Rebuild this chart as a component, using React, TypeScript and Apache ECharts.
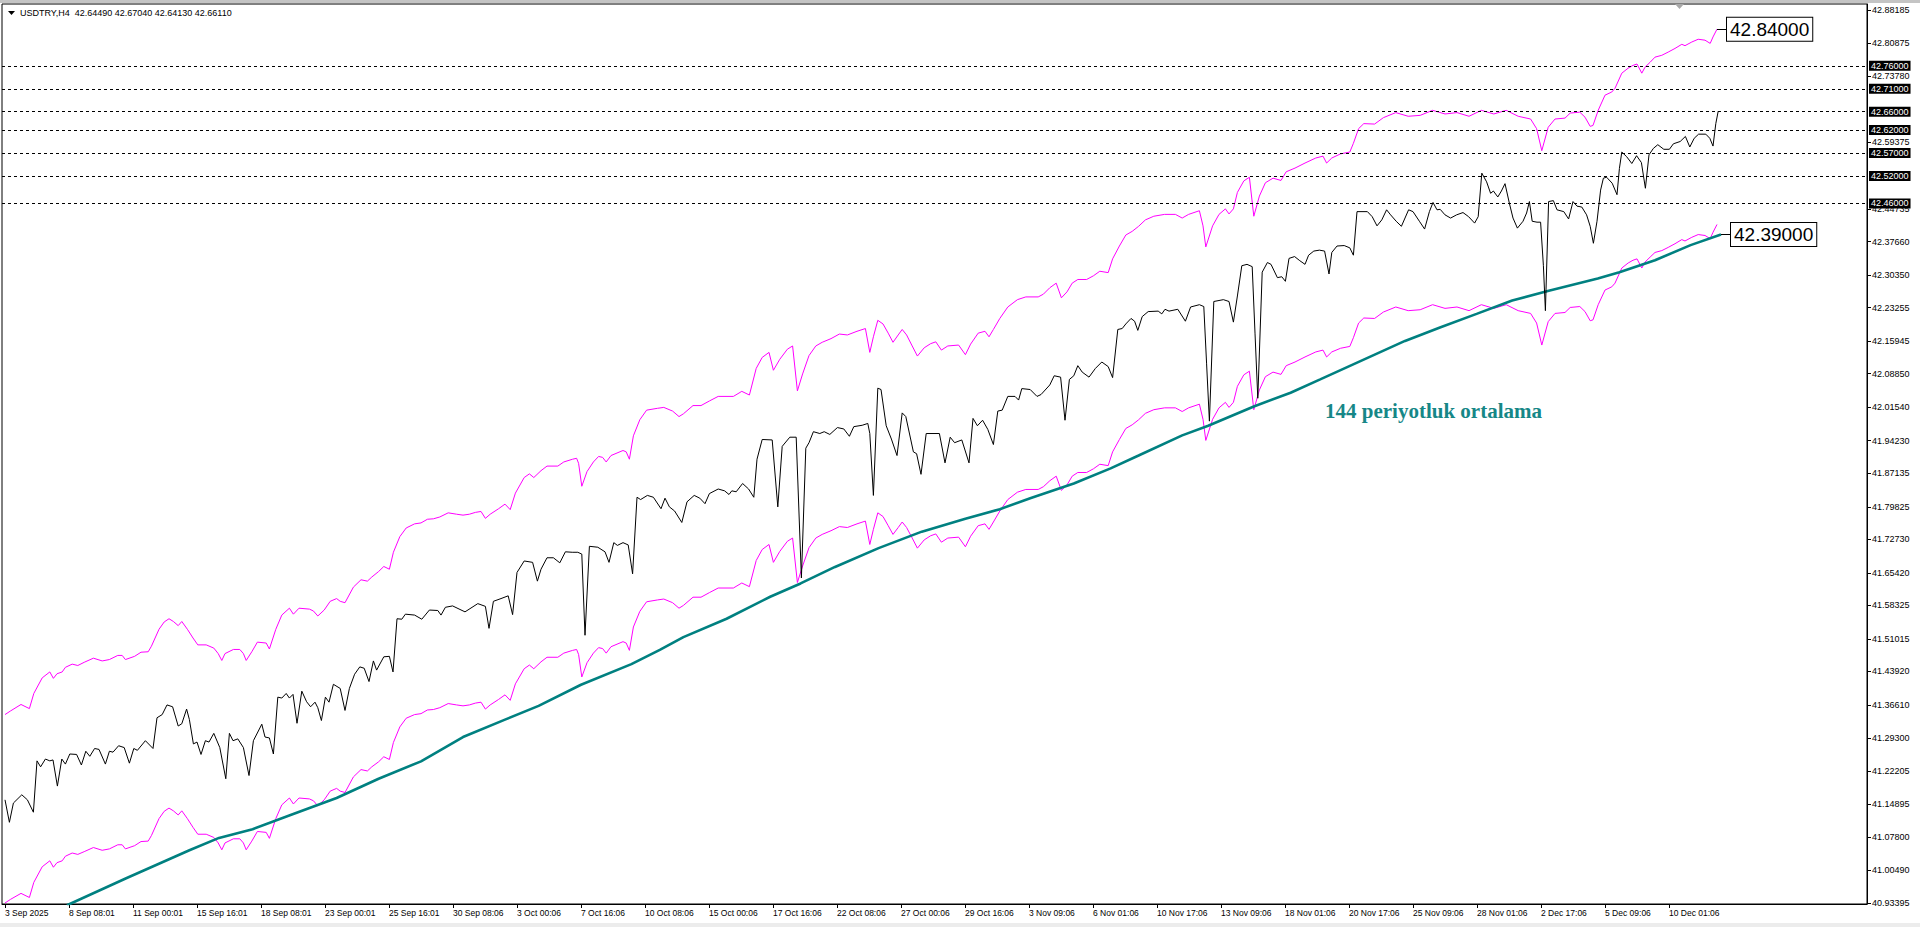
import React, { useEffect, useRef } from "react";
import * as echarts from "echarts";

const titleText = "USDTRY,H4  42.64490 42.67040 42.64130 42.66110";
const annotationText = "144 periyotluk ortalama";

const xLabels = [
  "3 Sep 2025", "8 Sep 08:01", "11 Sep 00:01", "15 Sep 16:01", "18 Sep 08:01",
  "23 Sep 00:01", "25 Sep 16:01", "30 Sep 08:06", "3 Oct 00:06", "7 Oct 16:06",
  "10 Oct 08:06", "15 Oct 00:06", "17 Oct 16:06", "22 Oct 08:06", "27 Oct 00:06",
  "29 Oct 16:06", "3 Nov 09:06", "6 Nov 01:06", "10 Nov 17:06", "13 Nov 09:06",
  "18 Nov 01:06", "20 Nov 17:06", "25 Nov 09:06", "28 Nov 01:06", "2 Dec 17:06",
  "5 Dec 09:06", "10 Dec 01:06",
];
const barsPerLabel = 16;

const yTicks = [
  42.88185, 42.80875, 42.7378, 42.59375, 42.44735, 42.3766, 42.3035, 42.23255,
  42.15945, 42.0885, 42.0154, 41.9423, 41.87135, 41.79825, 41.7273, 41.6542,
  41.58325, 41.51015, 41.4392, 41.3661, 41.293, 41.22205, 41.14895, 41.078,
  41.0049, 40.93395,
];

const levelLines = [42.76, 42.71, 42.66, 42.62, 42.57, 42.52, 42.46];
const upperTag = 42.84;
const maTag = 42.39;

// [bar index, price]
const closePrice: [number, number][] = [
  [0, 41.159], [1.1, 41.11], [2.1, 41.152], [4.2, 41.17], [5.6, 41.159], [7.1, 41.132],
  [8, 41.244], [8.9, 41.231], [10.1, 41.248], [11.2, 41.244], [12, 41.246], [13.1, 41.189],
  [14.2, 41.248], [15.1, 41.237], [16.2, 41.259], [17.9, 41.258], [19.1, 41.235], [20.2, 41.265],
  [21.2, 41.254], [22.4, 41.271], [23.5, 41.269], [25.1, 41.237], [26.1, 41.265], [27, 41.263],
  [28.4, 41.277], [29.8, 41.273], [31.1, 41.239], [32.2, 41.271], [33.1, 41.267], [35.1, 41.288],
  [37, 41.271], [38, 41.338], [39.3, 41.345], [40.5, 41.366], [41.9, 41.362], [43.3, 41.32],
  [44.2, 41.325], [45.4, 41.357], [46.1, 41.334], [47.1, 41.281], [48, 41.285], [49, 41.258],
  [50.1, 41.288], [51, 41.285], [52.2, 41.304], [53.7, 41.273], [55.2, 41.205], [56.1, 41.304],
  [57, 41.288], [58.2, 41.292], [59.6, 41.273], [61, 41.212], [62.1, 41.288], [64.2, 41.324],
  [65, 41.296], [66.1, 41.294], [67.1, 41.259], [68.2, 41.383], [69.2, 41.381], [70.3, 41.391],
  [71.1, 41.381], [72, 41.389], [73, 41.326], [74.2, 41.396], [75.4, 41.373], [76.4, 41.362],
  [77.5, 41.372], [78.2, 41.36], [79.1, 41.332], [80.1, 41.383], [81, 41.372], [82.1, 41.411],
  [83.8, 41.402], [85, 41.354], [86.1, 41.402], [87.4, 41.433], [88.7, 41.449], [89.8, 41.446],
  [91, 41.417], [92.1, 41.462], [92.9, 41.442], [94.7, 41.471], [96.1, 41.472], [97, 41.438],
  [98, 41.554], [99.2, 41.553], [100.1, 41.564], [102.4, 41.562], [104.2, 41.553], [106.1, 41.573],
  [108.2, 41.572], [109, 41.562], [110.1, 41.579], [111.9, 41.582], [115, 41.569], [118.2, 41.587],
  [120.1, 41.581], [121, 41.533], [122.1, 41.592], [124, 41.598], [125.8, 41.604], [126.9, 41.563],
  [128, 41.655], [129.8, 41.68], [131.9, 41.677], [133.1, 41.636], [134, 41.662], [135.5, 41.687],
  [137.1, 41.687], [138.7, 41.676], [140.1, 41.7], [141.8, 41.699], [143.2, 41.699], [144.2, 41.695],
  [145, 41.518], [146.1, 41.712], [148.2, 41.71], [150, 41.7], [151, 41.677], [152.2, 41.72],
  [153.1, 41.714], [154.5, 41.72], [155.8, 41.715], [156.9, 41.652], [158, 41.819], [158.9, 41.814],
  [160.6, 41.823], [162.1, 41.819], [164, 41.794], [165, 41.817], [166.1, 41.798], [167.4, 41.789],
  [169.2, 41.764], [170.5, 41.809], [172.3, 41.823], [173.7, 41.817], [175, 41.805], [176.1, 41.827],
  [178.3, 41.837], [179.9, 41.833], [181, 41.825], [181.7, 41.833], [182.8, 41.831], [184.4, 41.849],
  [185.9, 41.837], [187.2, 41.819], [188, 41.902], [189.3, 41.945], [191.8, 41.944], [193.2, 41.798],
  [194.3, 41.93], [196.2, 41.95], [197.8, 41.95], [199.1, 41.643], [200.2, 41.926], [201, 41.938],
  [202.1, 41.962], [203.7, 41.958], [204.8, 41.962], [206.2, 41.956], [208.1, 41.971], [209.7, 41.968],
  [211.1, 41.952], [212.2, 41.973], [214.3, 41.976], [215.7, 41.98], [216.2, 41.958], [217.1, 41.823],
  [218.2, 42.057], [219, 42.054], [220.3, 41.975], [221.6, 41.946], [223, 41.91], [224.3, 42.003],
  [225.2, 41.995], [227.1, 41.918], [227.9, 41.914], [229, 41.869], [230.3, 41.958], [233.6, 41.958],
  [235, 41.894], [236.3, 41.95], [237.4, 41.938], [239.2, 41.944], [241, 41.894], [242, 41.991],
  [243.1, 41.975], [244.4, 41.987], [245.7, 41.967], [247.1, 41.934], [248.2, 42.007], [249.3, 42.009],
  [250.7, 42.039], [252.5, 42.039], [253.4, 42.031], [254.2, 42.056], [256.3, 42.054], [258, 42.039],
  [259, 42.043], [261.2, 42.064], [262.3, 42.084], [263.9, 42.081], [265, 41.987], [266.1, 42.076],
  [267.2, 42.084], [268.2, 42.106], [269.3, 42.092], [271, 42.081], [272.6, 42.1], [274.2, 42.114],
  [275.8, 42.104], [276.9, 42.08], [278.2, 42.185], [279.3, 42.187], [280.2, 42.197], [281.5, 42.209],
  [282.4, 42.203], [283.2, 42.183], [284.3, 42.213], [285.8, 42.224], [288.3, 42.225], [289.2, 42.219],
  [290, 42.229], [291, 42.225], [293.2, 42.229], [295.1, 42.203], [296.4, 42.234], [298.6, 42.239],
  [299.7, 42.235], [300.4, 42.11], [301.1, 41.985], [302.2, 42.246], [304.6, 42.25], [306, 42.246],
  [307.1, 42.201], [308.1, 42.258], [309.2, 42.324], [310.5, 42.327], [311.8, 42.322], [312.5, 42.177],
  [313.2, 42.035], [314.3, 42.31], [315.6, 42.331], [316.5, 42.327], [318.1, 42.298], [319.2, 42.3],
  [320.1, 42.29], [321, 42.34], [322.4, 42.344], [323.7, 42.335], [325, 42.327], [325.9, 42.347],
  [327.2, 42.356], [328.6, 42.358], [329.9, 42.356], [331, 42.306], [331.7, 42.353], [333, 42.367],
  [334.8, 42.368], [336.2, 42.363], [337.1, 42.347], [338, 42.442], [340.6, 42.442], [341.8, 42.431],
  [343, 42.411], [344.2, 42.424], [345.4, 42.446], [346.4, 42.435], [347.8, 42.421], [349.1, 42.41],
  [350.9, 42.446], [352, 42.442], [353.6, 42.421], [354.9, 42.404], [356.1, 42.442], [357, 42.462],
  [358, 42.446], [358.8, 42.447], [360, 42.435], [361.4, 42.428], [362.9, 42.435], [364.5, 42.44],
  [365.9, 42.431], [367.4, 42.417], [368.3, 42.431], [369.2, 42.526], [370.4, 42.507], [371.4, 42.482],
  [372.1, 42.487], [373.2, 42.474], [374.1, 42.487], [375, 42.503], [376.1, 42.46], [377, 42.428],
  [378.1, 42.406], [379.5, 42.421], [380.4, 42.439], [381.1, 42.464], [381.8, 42.421], [383, 42.419],
  [383.9, 42.419], [384.6, 42.324], [385.1, 42.226], [385.9, 42.464], [387.1, 42.466], [388, 42.446],
  [389.7, 42.442], [390.9, 42.426], [392, 42.464], [393, 42.454], [394.2, 42.452], [395.4, 42.435],
  [396.3, 42.41], [397.1, 42.373], [398, 42.421], [398.9, 42.489], [399.6, 42.515], [400.4, 42.517],
  [401.8, 42.504], [403, 42.479], [403.6, 42.536], [404.2, 42.572], [405.4, 42.562], [406.7, 42.547],
  [407.9, 42.564], [409.1, 42.549], [410.1, 42.493], [411, 42.566], [412.1, 42.58], [413.2, 42.588],
  [414.7, 42.578], [416.1, 42.578], [417.1, 42.59], [418.8, 42.595], [420.1, 42.606], [421.2, 42.583],
  [422.3, 42.602], [423.4, 42.611], [425.2, 42.611], [426.2, 42.602], [427, 42.585], [427.7, 42.634],
  [428.3, 42.661],
];

const envelopeUpper: [number, number][] = [
  [0, 41.345], [1.4, 41.353], [4, 41.367], [6.1, 41.358], [7.2, 41.391], [9.3, 41.425], [11.2, 41.438],
  [12.1, 41.424], [13, 41.434], [14.3, 41.438], [15.1, 41.448], [16.8, 41.455], [18.2, 41.452],
  [19.8, 41.459], [22.1, 41.468], [24.3, 41.462], [26.1, 41.465], [28.2, 41.474], [29.3, 41.474],
  [30.1, 41.465], [32.4, 41.472], [34, 41.481], [35.8, 41.482], [36.6, 41.494], [38.5, 41.531],
  [39.8, 41.547], [41, 41.554], [42.1, 41.548], [43.3, 41.539], [44.2, 41.548], [45.6, 41.531],
  [47, 41.512], [48.2, 41.497], [50.3, 41.497], [52.2, 41.49], [53.3, 41.478], [54.2, 41.463],
  [55, 41.478], [57.1, 41.487], [58.7, 41.487], [59.6, 41.478], [60.3, 41.463], [61.7, 41.482],
  [63.1, 41.503], [65.3, 41.501], [66.1, 41.488], [67.7, 41.531], [69.2, 41.562], [71.1, 41.577],
  [72.1, 41.564], [73.5, 41.577], [76.1, 41.575], [77.1, 41.571], [78.2, 41.56], [79.8, 41.573],
  [81.3, 41.592], [82.9, 41.598], [83.8, 41.592], [85, 41.589], [87.1, 41.623], [89, 41.639],
  [90.6, 41.636], [91.7, 41.645], [93.4, 41.657], [94.7, 41.668], [96.1, 41.662], [97.1, 41.699],
  [98.7, 41.733], [100.3, 41.752], [102.4, 41.761], [104, 41.763], [105.6, 41.771], [107.1, 41.772],
  [108.7, 41.776], [110.8, 41.785], [112.9, 41.782], [114.5, 41.78], [116.1, 41.782], [117.6, 41.786],
  [119, 41.788], [120.1, 41.773], [121.3, 41.782], [123.4, 41.794], [125, 41.804], [126.3, 41.792],
  [127.6, 41.828], [129.8, 41.862], [131.1, 41.87], [132.2, 41.862], [134, 41.877], [135.5, 41.887],
  [138.2, 41.887], [139.7, 41.896], [141.9, 41.902], [142.9, 41.904], [143.4, 41.893], [144.2, 41.843],
  [145.5, 41.875], [147.1, 41.896], [148.4, 41.908], [149.4, 41.906], [150.3, 41.896], [151.5, 41.91],
  [154.5, 41.921], [155.3, 41.918], [156.1, 41.902], [157.1, 41.953], [158.7, 41.988], [160.4, 42.009],
  [163.1, 42.013], [164.7, 42.015], [166.9, 42.007], [168.5, 41.995], [169.6, 42.001], [172, 42.019],
  [174, 42.019], [176.1, 42.029], [178.3, 42.039], [182.1, 42.039], [184.2, 42.05], [186.1, 42.042],
  [187.8, 42.1], [189.3, 42.124], [191, 42.135], [192.1, 42.096], [193.7, 42.12], [195.6, 42.142],
  [196.9, 42.149], [198.1, 42.051], [199.4, 42.088], [201, 42.128], [202.7, 42.149], [204.3, 42.157],
  [206.5, 42.165], [208.6, 42.175], [210.6, 42.173], [213, 42.181], [215.1, 42.187], [216.2, 42.135],
  [217.1, 42.169], [218.2, 42.205], [219.5, 42.197], [220.8, 42.177], [222, 42.157], [223.3, 42.173],
  [224.3, 42.185], [225.4, 42.173], [226.8, 42.149], [228.1, 42.127], [229.8, 42.145], [231.4, 42.154],
  [232.7, 42.158], [234.1, 42.14], [235.7, 42.149], [238.4, 42.151], [240.1, 42.13], [241.4, 42.153],
  [243.3, 42.177], [245, 42.181], [246, 42.169], [247.1, 42.185], [248.7, 42.209], [250.7, 42.234],
  [253.1, 42.25], [255.2, 42.256], [258.3, 42.256], [259.6, 42.262], [261.2, 42.276], [262.8, 42.286],
  [264.1, 42.254], [265.5, 42.267], [266.8, 42.286], [268.2, 42.294], [270.4, 42.294], [272.1, 42.302],
  [273.7, 42.312], [275.8, 42.309], [276.9, 42.339], [278.6, 42.367], [280.2, 42.391], [281.8, 42.399],
  [283.4, 42.41], [285.1, 42.424], [287.2, 42.432], [289.9, 42.436], [292.6, 42.436], [294.3, 42.428],
  [295.9, 42.436], [298.6, 42.444], [299.5, 42.411], [300.2, 42.365], [301.9, 42.411], [303.5, 42.436],
  [305.1, 42.448], [306, 42.437], [307.1, 42.448], [308.1, 42.484], [309.7, 42.509], [311.1, 42.517],
  [312.2, 42.432], [313.6, 42.476], [315.1, 42.505], [317, 42.515], [319, 42.51], [320.3, 42.529],
  [322.5, 42.537], [325, 42.548], [327.7, 42.559], [329.5, 42.563], [330.4, 42.548], [331.7, 42.559],
  [333.9, 42.568], [336.2, 42.572], [337.1, 42.591], [338.4, 42.623], [339.7, 42.634], [342.4, 42.633],
  [344.6, 42.647], [347.7, 42.658], [350.8, 42.65], [353.8, 42.652], [356.9, 42.663], [360, 42.655],
  [363, 42.658], [366, 42.65], [369.1, 42.663], [372.2, 42.655], [375.3, 42.663], [378.3, 42.65],
  [381.4, 42.644], [382.9, 42.623], [384.2, 42.575], [385.8, 42.626], [387.5, 42.644], [390, 42.646],
  [391.3, 42.657], [393.7, 42.659], [395, 42.648], [396.3, 42.628], [397, 42.63], [398.3, 42.663],
  [400, 42.696], [401.7, 42.703], [402.5, 42.711], [404.2, 42.744], [405.8, 42.755], [407, 42.761],
  [408, 42.764], [409.2, 42.744], [410, 42.757], [411.3, 42.768], [412.5, 42.779], [414.2, 42.783],
  [415.8, 42.79], [417.5, 42.798], [419.2, 42.807], [420, 42.804], [421.7, 42.812], [423.3, 42.818],
  [425, 42.816], [426.3, 42.809], [427, 42.823], [428, 42.84],
];

const envelopeLower: [number, number][] = [
  [0, 40.934], [1.4, 40.942], [4, 40.955], [6.1, 40.946], [7.2, 40.979], [9.3, 41.013], [11.2, 41.026],
  [12.1, 41.012], [13, 41.022], [14.3, 41.026], [15.1, 41.036], [16.8, 41.043], [18.2, 41.04],
  [19.8, 41.046], [22.1, 41.055], [24.3, 41.049], [26.1, 41.052], [28.2, 41.061], [29.3, 41.061],
  [30.1, 41.052], [32.4, 41.059], [34, 41.068], [35.8, 41.069], [36.6, 41.081], [38.5, 41.118],
  [39.8, 41.134], [41, 41.141], [42.1, 41.135], [43.3, 41.126], [44.2, 41.135], [45.6, 41.118],
  [47, 41.099], [48.2, 41.084], [50.3, 41.084], [52.2, 41.077], [53.3, 41.065], [54.2, 41.05],
  [55, 41.065], [57.1, 41.074], [58.7, 41.074], [59.6, 41.065], [60.3, 41.05], [61.7, 41.069],
  [63.1, 41.09], [65.3, 41.088], [66.1, 41.075], [67.7, 41.118], [69.2, 41.148], [71.1, 41.163],
  [72.1, 41.15], [73.5, 41.163], [76.1, 41.161], [77.1, 41.157], [78.2, 41.146], [79.8, 41.159],
  [81.3, 41.178], [82.9, 41.184], [83.8, 41.178], [85, 41.175], [87.1, 41.209], [89, 41.225],
  [90.6, 41.222], [91.7, 41.231], [93.4, 41.242], [94.7, 41.253], [96.1, 41.247], [97.1, 41.284],
  [98.7, 41.318], [100.3, 41.337], [102.4, 41.345], [104, 41.347], [105.6, 41.355], [107.1, 41.356],
  [108.7, 41.36], [110.8, 41.369], [112.9, 41.366], [114.5, 41.364], [116.1, 41.366], [117.6, 41.37],
  [119, 41.372], [120.1, 41.357], [121.3, 41.366], [123.4, 41.378], [125, 41.388], [126.3, 41.376],
  [127.6, 41.412], [129.8, 41.445], [131.1, 41.453], [132.2, 41.445], [134, 41.46], [135.5, 41.47],
  [138.2, 41.47], [139.7, 41.479], [141.9, 41.485], [142.9, 41.487], [143.4, 41.476], [144.2, 41.427],
  [145.5, 41.458], [147.1, 41.479], [148.4, 41.491], [149.4, 41.489], [150.3, 41.479], [151.5, 41.493],
  [154.5, 41.504], [155.3, 41.501], [156.1, 41.485], [157.1, 41.536], [158.7, 41.57], [160.4, 41.591],
  [163.1, 41.595], [164.7, 41.597], [166.9, 41.589], [168.5, 41.577], [169.6, 41.583], [172, 41.601],
  [174, 41.601], [176.1, 41.611], [178.3, 41.621], [182.1, 41.621], [184.2, 41.632], [186.1, 41.624],
  [187.8, 41.681], [189.3, 41.705], [191, 41.716], [192.1, 41.677], [193.7, 41.701], [195.6, 41.723],
  [196.9, 41.73], [198.1, 41.633], [199.4, 41.669], [201, 41.709], [202.7, 41.73], [204.3, 41.738],
  [206.5, 41.746], [208.6, 41.755], [210.6, 41.753], [213, 41.761], [215.1, 41.767], [216.2, 41.716],
  [217.1, 41.749], [218.2, 41.785], [219.5, 41.777], [220.8, 41.757], [222, 41.738], [223.3, 41.753],
  [224.3, 41.765], [225.4, 41.753], [226.8, 41.73], [228.1, 41.708], [229.8, 41.726], [231.4, 41.735],
  [232.7, 41.739], [234.1, 41.721], [235.7, 41.73], [238.4, 41.732], [240.1, 41.711], [241.4, 41.734],
  [243.3, 41.757], [245, 41.761], [246, 41.749], [247.1, 41.765], [248.7, 41.789], [250.7, 41.814],
  [253.1, 41.83], [255.2, 41.836], [258.3, 41.836], [259.6, 41.842], [261.2, 41.855], [262.8, 41.865],
  [264.1, 41.834], [265.5, 41.846], [266.8, 41.865], [268.2, 41.873], [270.4, 41.873], [272.1, 41.881],
  [273.7, 41.891], [275.8, 41.888], [276.9, 41.918], [278.6, 41.945], [280.2, 41.969], [281.8, 41.977],
  [283.4, 41.988], [285.1, 42.002], [287.2, 42.01], [289.9, 42.014], [292.6, 42.014], [294.3, 42.006],
  [295.9, 42.014], [298.6, 42.022], [299.5, 41.989], [300.2, 41.943], [301.9, 41.989], [303.5, 42.014],
  [305.1, 42.026], [306, 42.015], [307.1, 42.026], [308.1, 42.061], [309.7, 42.086], [311.1, 42.094],
  [312.2, 42.01], [313.6, 42.053], [315.1, 42.082], [317, 42.092], [319, 42.087], [320.3, 42.106],
  [322.5, 42.114], [325, 42.125], [327.7, 42.136], [329.5, 42.14], [330.4, 42.125], [331.7, 42.136],
  [333.9, 42.144], [336.2, 42.148], [337.1, 42.167], [338.4, 42.199], [339.7, 42.21], [342.4, 42.209],
  [344.6, 42.223], [347.7, 42.234], [350.8, 42.226], [353.8, 42.228], [356.9, 42.239], [360, 42.231],
  [363, 42.234], [366, 42.226], [369.1, 42.239], [372.2, 42.231], [375.3, 42.239], [378.3, 42.226],
  [381.4, 42.22], [382.9, 42.199], [384.2, 42.151], [385.8, 42.202], [387.5, 42.22], [390, 42.222],
  [391.3, 42.233], [393.7, 42.235], [395, 42.224], [396.3, 42.204], [397, 42.206], [398.3, 42.239],
  [400, 42.271], [401.7, 42.278], [402.5, 42.286], [404.2, 42.319], [405.8, 42.33], [407, 42.336],
  [408, 42.339], [409.2, 42.319], [410, 42.332], [411.3, 42.343], [412.5, 42.353], [414.2, 42.357],
  [415.8, 42.364], [417.5, 42.372], [419.2, 42.381], [420, 42.378], [421.7, 42.386], [423.3, 42.392],
  [425, 42.39], [426.3, 42.383], [427, 42.397], [428, 42.414],
];

const ma144: [number, number][] = [
  [15.5, 40.929], [30.3, 40.988], [46.1, 41.049], [53.5, 41.076], [61.9, 41.095], [72.4, 41.129],
  [82.9, 41.163], [93.4, 41.205], [104, 41.243], [114.5, 41.296], [125, 41.334], [133.4, 41.364],
  [144, 41.41], [156.6, 41.455], [163.7, 41.486], [169.6, 41.514], [180.4, 41.554], [191.3, 41.602],
  [198.9, 41.631], [207.5, 41.667], [218.4, 41.708], [229.2, 41.744], [240.1, 41.772], [248.7, 41.793],
  [256.3, 41.817], [267.2, 41.849], [276.4, 41.882], [283.4, 41.91], [294.3, 41.954], [300.8, 41.975],
  [312.2, 42.017], [321.4, 42.047], [328.8, 42.076], [350, 42.16], [358.9, 42.19], [367.9, 42.219],
  [376.8, 42.248], [385.7, 42.269], [398.2, 42.296], [403.6, 42.31], [412.5, 42.336], [421.4, 42.369],
  [429, 42.392],
];

const FONT = "Liberation Sans";

function tagLine(last: [number, number], text: string) {
  return {
    silent: true,
    symbol: ["none", "none"],
    animation: false,
    lineStyle: { color: "#000", width: 1, type: "solid" },
    emphasis: { disabled: true },
    label: {
      show: true,
      position: "end",
      formatter: text,
      backgroundColor: "#fff",
      borderColor: "#000",
      borderWidth: 1,
      padding: [3, 3, 1, 3],
      color: "#000",
      fontSize: 19,
      fontFamily: FONT,
      distance: 0,
    },
    data: [[{ coord: [last[0], last[1]] }, { coord: [last[0] + 2.5, last[1]] }]],
  };
}

export default function App() {
  const ref = useRef<HTMLDivElement>(null);
  useEffect(() => {
    document.body.style.margin = "0";
    if (!ref.current) return;
    const chart = echarts.init(ref.current, null, { renderer: "svg" });
    const xTickIdx = xLabels.map((_, i) => i * barsPerLabel);
    const lastUpper = envelopeUpper[envelopeUpper.length - 1];
    const lastMa = ma144[ma144.length - 1];

    chart.setOption({
      animation: false,
      backgroundColor: "#fff",
      textStyle: { fontFamily: FONT },
      grid: {
        left: 2, right: 53, top: 4, bottom: 23,
        show: true, borderColor: "#000", borderWidth: 1, backgroundColor: "#fff",
      },
      xAxis: {
        type: "value",
        min: -0.75,
        max: 465.5,
        splitLine: { show: false },
        axisLine: { show: true, onZero: false, lineStyle: { color: "#000", width: 1 } },
        axisTick: { show: true, customValues: xTickIdx, length: 4, lineStyle: { color: "#000" } },
        axisLabel: {
          customValues: xTickIdx,
          formatter: (v: number) => xLabels[Math.round(v / barsPerLabel)] ?? "",
          align: "left",
          margin: 4,
          fontSize: 8.5,
          color: "#000",
          fontFamily: FONT,
          hideOverlap: false,
        },
      },
      yAxis: {
        type: "value",
        position: "right",
        min: 40.9318,
        max: 42.8949,
        splitLine: { show: false },
        axisLine: { show: true, onZero: false, lineStyle: { color: "#000", width: 1 } },
        axisTick: { show: true, customValues: yTicks, length: 4, lineStyle: { color: "#000" } },
        axisLabel: {
          customValues: yTicks,
          formatter: (v: number) => Number(v).toFixed(5),
          margin: 5,
          fontSize: 9,
          color: "#000",
          fontFamily: FONT,
          showMinLabel: true,
          showMaxLabel: true,
        },
      },
      series: [
        {
          name: "Envelope lower",
          type: "line",
          data: envelopeLower,
          showSymbol: false,
          symbol: "none",
          silent: true,
          lineStyle: { color: "#ff00ff", width: 1 },
          z: 2,
        },
        {
          name: "Envelope upper",
          type: "line",
          data: envelopeUpper,
          showSymbol: false,
          symbol: "none",
          silent: true,
          lineStyle: { color: "#ff00ff", width: 1 },
          z: 2,
          markLine: tagLine(lastUpper, upperTag.toFixed(5)),
        },
        {
          name: "MA 144",
          type: "line",
          data: ma144,
          showSymbol: false,
          symbol: "none",
          silent: true,
          lineStyle: { color: "#008080", width: 2.6 },
          z: 3,
          markLine: tagLine(lastMa, maTag.toFixed(5)),
        },
        {
          name: "USDTRY",
          type: "line",
          data: closePrice,
          showSymbol: false,
          symbol: "none",
          silent: true,
          lineStyle: { color: "#000", width: 1 },
          z: 4,
          markLine: {
            silent: true,
            symbol: ["none", "none"],
            animation: false,
            emphasis: { disabled: true },
            lineStyle: { color: "#000", width: 1, type: [3, 3] },
            label: {
              show: true,
              position: "end",
              backgroundColor: "#000",
              color: "#fff",
              padding: [1, 2, 0, 2],
              fontSize: 9,
              fontFamily: FONT,
              distance: 2,
            },
            data: levelLines.map((v) => ({ yAxis: v, label: { formatter: v.toFixed(5) } })),
          },
        },
      ],
      graphic: [
        { type: "rect", shape: { x: 0, y: 0, width: 1920, height: 3 }, style: { fill: "#c4c4c4" }, silent: true },
        { type: "rect", shape: { x: 0, y: 923, width: 1920, height: 4 }, style: { fill: "#ececec" }, silent: true },
        { type: "polygon", shape: { points: [[1675, 4], [1684, 4], [1679.5, 9]] }, style: { fill: "#a8a8a8" }, silent: true },
        { type: "polygon", shape: { points: [[8, 11], [15, 11], [11.5, 15]] }, style: { fill: "#000" }, silent: true },
        {
          type: "text", x: 20, y: 13, silent: true,
          style: { text: titleText, fill: "#000", font: `9px "${FONT}"`, align: "left", verticalAlign: "middle" },
        },
        {
          type: "text", x: 1325, y: 411, silent: true,
          style: {
            text: annotationText, fill: "#168787",
            font: 'bold 21px "Liberation Serif"', align: "left", verticalAlign: "middle",
          },
        },
      ],
    });
    return () => chart.dispose();
  }, []);
  return <div ref={ref} style={{ width: 1920, height: 927 }} />;
}
